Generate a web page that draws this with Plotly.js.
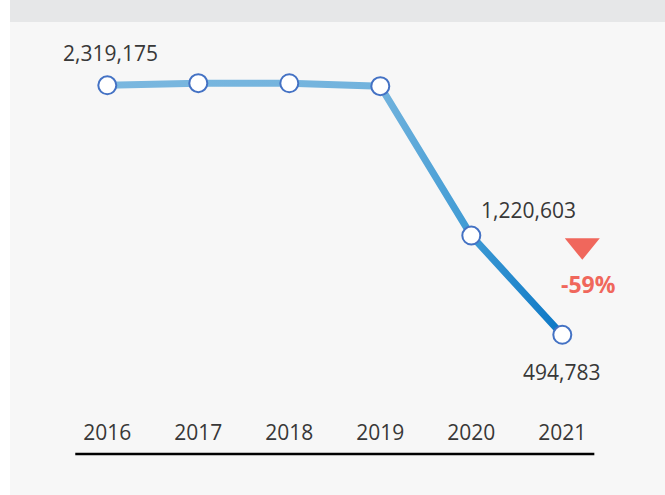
<!DOCTYPE html>
<html>
<head>
<meta charset="utf-8">
<script src="https://cdn.plot.ly/plotly-3.0.1.min.js"></script>
<style>
  html, body { margin: 0; padding: 0; background: #ffffff; width: 665px; height: 495px; overflow: hidden; }
  #band { position: absolute; left: 10px; top: 0; width: 655px; height: 22px; background: #e6e7e8; }
  #chart { position: absolute; left: 10px; top: 22px; width: 655px; height: 473px; }
</style>
</head>
<body>
<div id="band"></div>
<div id="chart"></div>
<script>
// ---- data ----
var years = ['2016', '2017', '2018', '2019', '2020', '2021'];
var values = [2319175, 2335000, 2334000, 2313000, 1220603, 494783];
var labeledYears = ['2016', '2020', '2021'];

// ---- styling ----
var fontFamily = '"Open Sans", "Segoe UI", sans-serif';
var textColor = '#383838';
var downColor = '#f0675c';
var xRange = [-1.0692, 6.1286];
var yRange = [-113575, 2781973];

var fmt = function (v) { return v.toLocaleString('en-US'); };

// label offsets (pixels) per labelled year
var labelOffsets = {
  '2016': { x: 3, y: 32 },
  '2020': { x: 57, y: 26 },
  '2021': { x: -1, y: -37 }
};

var annotations = labeledYears.map(function (yr) {
  var i = years.indexOf(yr);
  return {
    x: i, y: values[i], xref: 'x', yref: 'y',
    text: fmt(values[i]), showarrow: false,
    xanchor: 'center', yanchor: 'middle',
    xshift: labelOffsets[yr].x, yshift: labelOffsets[yr].y,
    font: { family: fontFamily, size: 21, color: textColor }
  };
});

var last = values.length - 1;
var pct = Math.round((values[last] / values[last - 1] - 1) * 100);
annotations.push({
  x: last, y: values[last], xref: 'x', yref: 'y',
  text: '<b>' + pct + '%</b>', showarrow: false,
  xanchor: 'center', yanchor: 'middle', xshift: 26, yshift: 51,
  font: { family: fontFamily, size: 23, color: downColor }
});

var shapes = [
  {
    // down triangle
    type: 'path', xref: 'x', yref: 'y',
    xsizemode: 'pixel', ysizemode: 'pixel',
    xanchor: last, yanchor: values[last],
    path: 'M 2.5 96.5 L 37.5 96.5 L 20 75 Z',
    fillcolor: downColor, line: { width: 0 }
  },
  {
    // baseline under the year labels
    type: 'line', xref: 'x', yref: 'paper',
    ysizemode: 'pixel', yanchor: 0,
    x0: -0.352, x1: 5.352, y0: -36, y1: -36,
    line: { color: '#000000', width: 2.5 }
  }
];

var trace = {
  type: 'scatter', mode: 'lines+markers',
  x: years, y: values,
  line: { color: '#5aa8da', width: 7 },
  marker: { size: 18, color: '#ffffff', line: { color: '#4472c4', width: 2 } },
  hoverinfo: 'none', cliponaxis: false
};

var layout = {
  width: 655, height: 473,
  margin: { l: 0, r: 0, t: 0, b: 77 },
  paper_bgcolor: '#f7f7f7', plot_bgcolor: '#f7f7f7',
  showlegend: false,
  xaxis: {
    type: 'category', range: xRange, fixedrange: true,
    showgrid: false, zeroline: false, showline: false, ticks: '',
    tickvals: years, ticktext: years,
    tickfont: { family: fontFamily, size: 21, color: textColor }
  },
  yaxis: {
    range: yRange, visible: false, fixedrange: true,
    showgrid: false, zeroline: false
  },
  annotations: annotations,
  shapes: shapes
};

Plotly.newPlot('chart', [trace], layout, { displayModeBar: false, staticPlot: true }).then(function (gd) {
  var svg = gd.querySelector('svg.main-svg');
  var defs = svg.querySelector('defs');
  var NS = 'http://www.w3.org/2000/svg';
  var grad = document.createElementNS(NS, 'linearGradient');
  grad.setAttribute('id', 'lineGrad');
  grad.setAttribute('x1', '0'); grad.setAttribute('y1', '0');
  grad.setAttribute('x2', '1'); grad.setAttribute('y2', '0');
  [['0', '#7ab7df'], ['0.6', '#72b3dd'], ['0.8', '#3e9ad4'], ['1', '#0b77c5']].forEach(function (s) {
    var st = document.createElementNS(NS, 'stop');
    st.setAttribute('offset', s[0]);
    st.setAttribute('stop-color', s[1]);
    grad.appendChild(st);
  });
  defs.appendChild(grad);
  gd.querySelectorAll('.scatterlayer path.js-line').forEach(function (p) {
    p.style.stroke = 'url(#lineGrad)';
  });
});
</script>
</body>
</html>
